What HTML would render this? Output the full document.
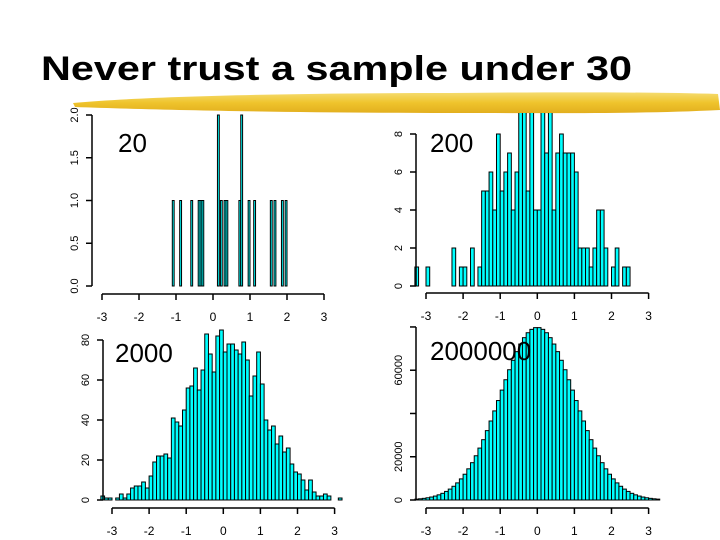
<!DOCTYPE html>
<html><head><meta charset="utf-8"><style>
html,body{margin:0;padding:0;background:#fff;}
svg{display:block;font-family:"Liberation Sans",sans-serif;}
</style></head><body>
<svg id="chart" width="720" height="540" viewBox="0 0 720 540">
<defs>
<linearGradient id="brush" x1="0" y1="0" x2="0" y2="1">
<stop offset="0" stop-color="#f5dc70"/><stop offset="0.5" stop-color="#efc42c"/><stop offset="1" stop-color="#e2ae1e"/>
</linearGradient>
<clipPath id="clipTop"><rect x="0" y="113" width="720" height="200"/></clipPath>
</defs>
<text x="41" y="80" font-size="34" font-weight="bold" textLength="591" lengthAdjust="spacingAndGlyphs">Never trust a sample under 30</text>
<path d="M73,103 C150,96 300,93 450,93 C560,92 650,92 718,94 L720,110 C640,114 560,113 450,113 C300,113 160,110 75,107 Z" fill="url(#brush)"/>
<g id="panels"></g>
</svg>
<script>
// Panel 1: n=20
const p1Edges = [-1.1,-0.9,-0.6,-0.4,-0.35,-0.3,0.12,0.2,0.3,0.35,0.7,0.75,0.95,1.1,1.55,1.65,1.85,1.95];
const p1Counts = [1,1,1,1,1,1,2,1,1,1,1,2,1,1,1,1,1,1];
const p1Width = 0.05;
const p1YTicks = ["0.0","0.5","1.0","1.5","2.0"];
const p1YTickVals = [0,0.5,1,1.5,2];
// Panel 2: n=200
const p2Edges = [-3.3,-3.0,-2.3,-2.1,-2.0,-1.8,-1.6,-1.5,-1.4,-1.3,-1.2,-1.1,-1.0,-0.9,-0.8,-0.7,-0.6,-0.5,-0.4,-0.3,-0.2,-0.1,0.0,0.1,0.2,0.3,0.4,0.5,0.6,0.7,0.8,0.9,1.0,1.1,1.2,1.3,1.4,1.5,1.6,1.7,1.8,2.0,2.1,2.3,2.4];
const p2Counts = [1,1,2,1,1,2,1,5,5,6,4,8,5,6,7,4,6,10,10,5,10,4,4,10,7,10,4,7,8,7,7,7,6,2,2,2,1,2,4,4,2,1,2,1,1];
const p2Width = 0.1;
const p2YTicks = ["0","2","4","6","8"];
const p2YTickVals = [0,2,4,6,8];
// Panel 3: n=2000
const p3Start = -3.3;
const p3Counts = [2,1,1,0,1,3,1,3,6,7,7,9,6,12,19,22,22,23,21,41,39,37,45,56,57,66,55,65,83,73,64,82,85,74,78,78,75,73,79,70,52,62,74,58,40,35,37,28,32,24,26,18,14,13,10,5,10,4,2,2,3,2,0,0,1];
const p3Width = 0.1;
const p3YTicks = ["0","20","40","60","80"];
const p3YTickVals = [0,20,40,60,80];
// Panel 4: n=2000000
const p4Start = -3.3;
const p4Counts = [406,558,762,1028,1374,1818,2382,3090,3968,5044,6348,7910,9758,11918,14412,17256,20452,24002,27886,32076,36530,41188,45976,50812,55596,60228,64594,68588,72106,75048,77334,78896,79688,79688,78896,77334,75048,72106,68588,64594,60228,55596,50812,45976,41188,36530,32076,27886,24002,20452,17256,14412,11918,9758,7910,6348,5044,3968,3090,2382,1818,1374,1028,762,558,406];
const p4Width = 0.1;
const p4YTicks = ["0","20000","","60000",""];
const p4YTickVals = [0,20000,40000,60000,80000];
const xTickLabels = ["-3","-2","-1","0","1","2","3"];
const xTickVals = [-3,-2,-1,0,1,2,3];

const NS = "http://www.w3.org/2000/svg";
const root = document.getElementById("panels");
function mk(tag, attrs, parent){const e=document.createElementNS(NS,tag);for(const k in attrs)e.setAttribute(k,attrs[k]);(parent||root).appendChild(e);return e;}

function panel(cfg){
  const g = mk("g",{});
  
  
  const sx = v => cfg.x0 + (v + 3) * cfg.xs;
  const sy = v => cfg.base - v * cfg.ys;
  const bars = mk("g", cfg.clip ? {"clip-path":"url(#clipTop)"} : {}, g);
  for (let i = 0; i < cfg.edges.length; i++) {
    if (!cfg.counts[i]) continue;
    const x1 = sx(cfg.edges[i]), x2 = sx(cfg.edges[i] + cfg.width);
    const y = sy(cfg.counts[i]);
    const r = mk("rect",{x:x1,y:y,width:x2-x1,height:cfg.base-y,fill:"#00ffff",stroke:"#000","stroke-width":1},bars);
    
    
  }
  const ya = mk("g",{},g);
  
  
  const yTop = sy(cfg.yVals[cfg.yVals.length-1]);
  mk("line",{x1:cfg.ax,y1:cfg.base,x2:cfg.ax,y2:Math.max(yTop,113),stroke:"#000","stroke-width":1.5},ya);
  cfg.yVals.forEach((v,i)=>{
    const y = sy(v);
    if (y < 112) return;
    mk("line",{x1:cfg.ax-6,y1:y,x2:cfg.ax,y2:y,stroke:"#000","stroke-width":1.5},ya);
    if (cfg.yLabels[i]) {
      const t = mk("text",{x:0,y:0,"font-size":11,"text-anchor":"middle",transform:`translate(${cfg.ax-14},${y}) rotate(-90)`},ya);
      t.textContent = cfg.yLabels[i];
      
      
    }
  });
  const xa = mk("g",{},g);
  
  
  mk("line",{x1:sx(-3),y1:cfg.axY,x2:sx(3),y2:cfg.axY,stroke:"#000","stroke-width":1.5},xa);
  xTickVals.forEach((v,i)=>{
    mk("line",{x1:sx(v),y1:cfg.axY,x2:sx(v),y2:cfg.axY+6,stroke:"#000","stroke-width":1.5},xa);
    const t = mk("text",{x:sx(v),y:cfg.axY+27,"font-size":12,"text-anchor":"middle"},xa);
    t.textContent = xTickLabels[i];
    
    
  });
  const lab = mk("text",{x:cfg.lx,y:cfg.ly,"font-size":26},g);
  lab.textContent = cfg.label;
  
  
}
const seq = (s,n)=>Array.from({length:n},(_, i)=>Math.round((s+i*0.1)*10)/10);
panel({name:"histogram-n20",edges:p1Edges,counts:p1Counts,width:p1Width,x0:102,xs:37,base:286,ys:85.5,ax:92,axY:294,yVals:p1YTickVals,yLabels:p1YTicks,label:"20",lx:118,ly:152});
panel({name:"histogram-n200",edges:p2Edges,counts:p2Counts,width:p2Width,x0:426,xs:37.1,base:286,ys:19,ax:416,axY:293,yVals:p2YTickVals,yLabels:p2YTicks,label:"200",lx:430,ly:152,clip:true});
panel({name:"histogram-n2000",edges:seq(p3Start,p3Counts.length),counts:p3Counts,width:p3Width,x0:112,xs:37.1,base:500,ys:2,ax:103,axY:508,yVals:p3YTickVals,yLabels:p3YTicks,label:"2000",lx:115,ly:362});
panel({name:"histogram-n2000000",edges:seq(p4Start,p4Counts.length),counts:p4Counts,width:p4Width,x0:426,xs:37.1,base:500,ys:0.002163,ax:416,axY:508,yVals:p4YTickVals,yLabels:p4YTicks,label:"2000000",lx:430,ly:360});
</script>
</body></html>
